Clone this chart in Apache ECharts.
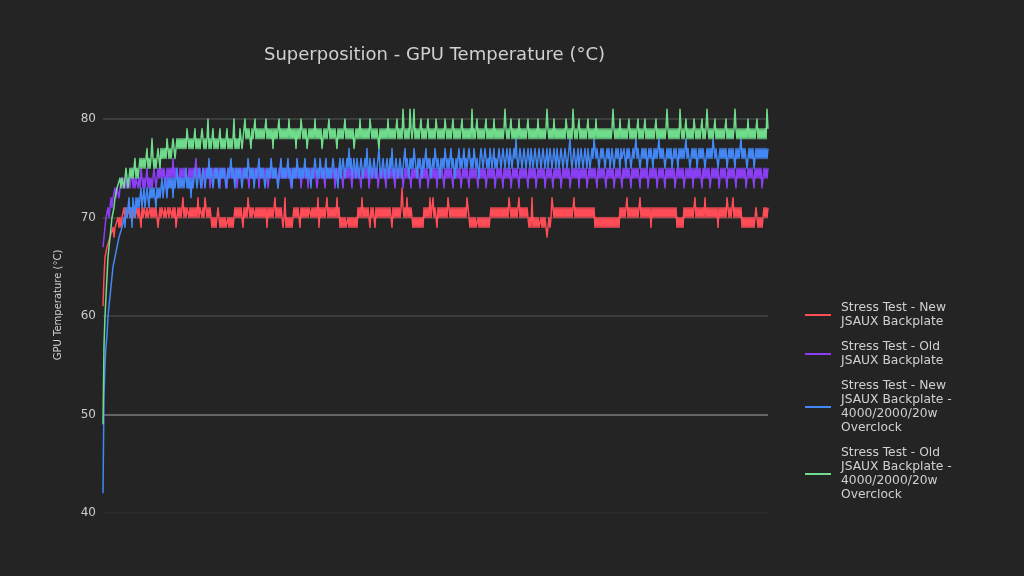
<!DOCTYPE html>
<html>
<head>
<meta charset="utf-8">
<script src="https://cdn.jsdelivr.net/npm/echarts@6/dist/echarts.min.js"></script>
<style>
html,body{margin:0;padding:0;background:#242424;}
#c{width:1024px;height:576px;}
</style>
</head>
<body>
<div id="c"></div>
<script>
const seriesNames = [
  'Stress Test - New JSAUX Backplate',
  'Stress Test - Old JSAUX Backplate',
  'Stress Test - New JSAUX Backplate - 4000/2000/20w Overclock',
  'Stress Test - Old JSAUX Backplate - 4000/2000/20w Overclock'
];
const legendLabels = [
  'Stress Test - New\nJSAUX Backplate',
  'Stress Test - Old\nJSAUX Backplate',
  'Stress Test - New\nJSAUX Backplate -\n4000/2000/20w\nOverclock',
  'Stress Test - Old\nJSAUX Backplate -\n4000/2000/20w\nOverclock'
];
const yTicks = [40, 50, 60, 70, 80];

const redNew = [
61,64,66,66,67,67,67,68,68,68,69,68,69,69,69,70,69,70,69,70,
70,71,70,71,70,70,71,70,71,71,70,71,70,70,71,70,71,70,69,71,
70,71,71,70,71,70,70,71,70,71,70,71,70,71,70,69,70,71,70,71,
71,70,71,70,70,71,70,71,71,70,71,70,71,69,70,71,70,71,70,71,
72,70,71,70,71,71,70,71,70,71,70,71,70,71,70,72,70,71,71,70,
71,70,72,71,70,71,70,71,71,69,70,69,70,69,70,71,70,69,70,69,
70,69,70,69,69,70,69,70,69,70,69,70,71,70,71,70,71,70,71,70,
69,71,70,71,70,72,71,70,71,70,71,71,70,71,70,71,70,71,70,71,
70,71,70,71,69,71,70,71,70,71,70,71,72,70,71,70,71,70,71,70,
69,70,72,69,70,69,70,69,70,69,70,71,70,71,70,71,70,69,71,70,
71,70,71,70,71,70,71,71,70,71,70,71,70,71,70,72,69,71,70,71,
70,71,70,71,72,70,71,70,71,70,71,70,71,70,72,70,71,69,70,69,
70,69,70,69,69,70,69,70,69,70,69,70,69,70,69,71,70,71,70,72,
70,71,70,71,70,71,70,69,71,70,71,70,69,71,70,71,70,71,70,71,
70,71,70,71,70,71,70,71,70,69,71,70,71,70,71,70,71,70,71,73,
71,70,71,70,72,70,71,70,71,70,69,70,69,70,69,70,69,70,69,70,
69,71,70,71,70,71,70,72,70,71,72,70,71,70,69,71,70,71,70,71,
70,71,70,71,70,72,71,70,71,70,71,70,71,70,71,70,71,70,71,70,
71,70,71,70,72,71,70,69,70,69,70,69,70,69,69,70,69,70,69,70,
69,70,69,70,69,70,69,70,71,70,71,70,71,70,71,70,71,70,71,70,
71,70,71,70,71,70,72,71,70,71,70,71,70,71,70,71,72,70,71,70,
71,70,71,70,71,70,69,70,69,72,69,70,69,70,69,70,69,69,70,69,
70,69,70,69,68,69,70,69,70,72,71,70,71,70,71,70,71,70,71,70,
71,70,71,70,71,70,71,70,71,70,71,72,70,71,70,71,70,71,70,71,
70,71,70,71,70,71,70,71,70,71,70,71,69,70,69,70,69,70,69,70,
69,70,69,70,69,70,69,70,69,70,69,70,69,70,69,70,69,71,70,71,
70,71,70,71,72,70,71,70,71,70,71,70,71,70,71,70,71,72,70,71,
70,71,70,71,70,71,70,71,69,71,70,71,70,71,70,71,70,71,70,71,
70,71,70,71,70,71,70,71,70,71,70,71,70,71,69,70,69,70,69,70,
69,71,70,71,70,71,70,71,70,71,70,71,72,70,71,70,71,70,71,70,
71,70,72,70,71,70,71,70,71,70,71,70,71,70,71,69,71,70,71,70,
71,70,71,70,72,71,70,71,70,71,72,70,71,70,71,70,71,70,71,69,
70,69,70,69,70,69,70,69,70,69,70,69,70,71,70,69,70,69,70,69,
70,71,70,71,70,71
];

const purpleOld = [
67,68,69,70,70,71,70,71,72,71,72,72,73,72,73,73,72,73,73,74,
73,74,73,74,73,73,74,73,74,75,73,74,73,74,74,73,74,73,75,74,
73,74,73,74,75,73,74,73,74,73,74,75,74,73,74,75,74,75,74,75,
74,75,74,73,75,74,75,74,75,74,76,74,75,74,75,74,73,75,74,75,
74,75,74,75,74,73,75,74,75,74,75,74,75,76,74,75,74,75,74,73,
75,74,75,74,75,74,75,73,74,75,74,75,74,75,74,75,74,73,75,74,
75,74,75,74,73,75,74,75,74,75,74,75,74,75,73,74,75,74,75,74,
75,74,75,74,75,74,73,75,74,75,74,75,74,75,74,75,73,75,74,75,
74,75,74,75,74,73,74,75,74,75,74,75,74,75,74,73,75,74,75,74,
75,74,75,74,75,74,75,74,73,75,74,75,74,75,74,75,74,75,73,74,
75,74,75,74,75,73,75,74,75,74,75,74,75,74,73,74,75,74,75,74,
75,74,73,75,74,75,74,75,74,75,74,75,73,74,75,74,75,74,75,74,
73,75,74,75,74,75,74,75,74,73,75,74,75,74,75,74,75,74,73,75,
74,75,74,75,74,75,73,74,75,74,75,74,75,74,75,73,74,75,74,75,
74,75,74,73,75,74,75,74,75,74,75,74,73,75,74,75,74,75,74,75,
73,74,75,74,75,74,75,74,73,75,74,75,74,75,74,75,74,73,75,74,
75,74,75,74,75,73,74,75,74,75,74,75,74,75,73,75,74,75,74,75,
74,73,75,74,75,74,75,74,75,74,73,75,74,75,74,75,74,75,73,74,
75,74,75,74,75,74,73,75,74,75,74,75,74,75,74,73,75,74,75,74,
75,74,75,73,74,75,74,75,74,75,74,75,73,74,75,74,75,74,75,74,
73,75,74,75,74,75,74,75,73,74,75,74,75,74,75,74,73,75,74,75,
74,75,74,75,74,73,75,74,75,74,75,74,75,73,74,75,74,75,74,75,
74,75,73,74,75,74,75,74,75,74,73,75,74,75,74,75,74,75,73,74,
75,74,75,74,75,74,75,73,74,75,74,75,74,75,74,75,73,75,74,75,
74,75,74,75,73,74,75,74,75,74,75,74,75,74,73,75,74,75,74,75,
74,75,74,73,75,74,75,74,75,74,75,73,74,75,74,75,74,75,74,73,
75,74,75,74,75,74,75,74,73,75,74,75,74,75,74,75,74,73,75,74,
75,74,75,74,75,73,74,75,74,75,74,75,74,75,73,74,75,74,75,74,
75,74,73,75,74,75,74,75,74,75,74,75,73,74,75,74,75,74,75,74,
75,73,74,75,74,75,74,75,74,75,73,75,74,75,74,75,74,75,74,73,
75,74,75,74,75,74,75,73,74,75,74,75,74,75,74,75,73,74,75,74,
75,74,75,74,73,75,74,75,74,75,74,75,74,73,75,74,75,74,75,74,
75,74,75,73,74,75,74,75,74,75,74,73,75,74,75,74,75,74,75,73,
74,75,74,75,74,75
];

const blueNewOC = [
42,52,55,57,58,60,61,62,63,64,65,65,66,66,67,67,68,68,68,69,
69,70,69,71,70,70,72,70,71,69,72,71,70,72,71,72,71,72,73,71,
72,73,71,72,73,72,71,73,72,73,72,73,72,71,73,72,73,72,73,74,
72,73,74,73,72,74,73,74,73,74,72,74,73,74,75,73,74,73,74,73,
74,73,74,75,73,74,73,74,72,74,73,74,75,74,73,74,75,74,73,74,
75,74,73,74,75,74,76,74,75,74,73,74,75,74,75,74,73,75,74,75,
74,75,74,73,74,75,74,75,76,74,75,74,73,75,74,75,74,75,74,73,
74,75,74,75,74,76,75,74,75,74,75,73,74,75,74,75,76,74,75,74,
75,74,73,74,75,74,75,74,76,75,74,75,74,75,74,73,74,75,76,74,
75,74,75,74,75,76,74,75,74,73,75,74,75,74,76,75,74,75,74,75,
74,75,76,74,75,74,75,74,73,75,74,75,76,75,74,75,74,76,75,74,
75,74,75,76,74,75,74,75,74,75,76,75,74,75,74,73,75,76,74,75,
76,75,74,75,76,75,77,75,76,74,75,76,75,74,76,75,74,75,76,75,
74,75,76,75,77,75,74,76,75,74,75,76,75,74,75,76,77,75,74,75,
76,75,74,75,76,75,74,76,75,77,75,74,75,76,75,74,75,76,75,74,
75,76,77,75,76,75,74,76,75,76,75,77,76,75,74,76,75,76,75,74,
76,75,76,77,75,76,75,76,74,75,76,75,77,76,75,76,75,74,76,75,
76,75,77,76,75,76,75,76,77,75,76,75,74,76,75,76,77,75,76,75,
76,77,75,76,75,76,77,76,75,76,75,77,76,75,76,75,74,76,77,76,
75,76,77,76,75,76,75,77,76,75,76,77,75,76,75,76,77,76,75,76,
77,76,75,76,77,76,75,77,76,75,76,77,76,78,76,75,76,77,76,75,
76,77,76,75,76,77,76,75,77,76,75,76,77,76,75,76,77,76,75,76,
77,76,75,76,77,75,76,77,76,75,76,77,76,75,77,76,75,76,77,76,
75,76,77,76,75,76,77,78,76,75,76,77,76,75,76,77,75,76,77,76,
75,76,77,76,75,77,76,75,76,77,76,78,77,76,77,76,75,76,77,76,
77,76,75,76,77,76,77,75,76,77,76,75,76,77,76,77,76,75,77,76,
76,77,76,75,77,76,77,76,75,76,77,76,77,78,76,77,76,75,76,77,
76,77,76,77,75,76,77,76,77,76,75,77,76,77,76,77,78,76,77,76,
77,76,75,76,77,76,77,76,77,75,76,77,76,77,76,75,77,76,77,76,
77,76,77,78,76,77,76,75,76,77,76,77,76,77,75,76,77,76,77,76,
77,76,75,76,77,76,77,76,77,76,78,77,76,77,76,75,76,77,76,77,
76,77,76,77,75,76,77,76,77,76,77,76,75,77,76,77,76,77,78,76,
77,76,77,76,75,76,77,76,77,76,77,75,76,77,76,77,76,77,76,77,
76,77,76,77,76,77
];

const greenOldOC = [
49,57,60,62,64,66,67,68,69,70,70,71,72,72,73,73,73,74,73,74,
74,73,74,75,74,73,74,75,74,75,74,75,76,74,75,74,75,76,75,76,
75,76,75,76,77,75,76,75,76,78,76,75,76,75,76,77,76,75,77,76,
77,76,77,76,78,77,76,77,76,77,78,77,76,77,78,77,78,77,78,77,
78,77,78,77,79,78,77,78,77,78,77,78,79,77,78,77,78,77,78,79,
78,77,78,77,78,80,77,78,77,78,79,77,78,77,78,77,78,79,77,78,
77,78,77,78,79,77,78,77,78,77,78,80,77,78,77,78,77,79,78,77,
78,79,80,78,79,78,79,78,77,79,78,79,80,78,79,78,79,78,79,78,
79,78,79,80,78,79,78,79,78,79,77,79,78,79,78,79,80,78,79,78,
79,78,79,78,79,78,80,78,79,78,79,78,79,77,79,78,79,78,80,79,
78,79,78,79,77,78,79,78,79,78,79,78,80,78,79,78,79,78,79,77,
78,79,78,79,78,79,80,78,79,78,79,78,79,78,77,79,78,79,78,79,
78,79,80,78,79,78,79,78,79,78,79,77,78,79,78,79,78,80,78,79,
78,79,78,79,78,79,78,80,79,78,79,78,79,78,79,78,77,79,78,79,
78,79,78,79,78,80,78,79,78,79,78,79,78,79,80,78,79,78,79,78,
81,79,78,79,78,79,78,81,79,78,79,81,78,79,78,79,78,79,80,78,
79,78,79,78,79,80,78,79,78,79,78,79,78,80,79,78,79,78,79,78,
79,78,80,79,78,79,78,79,78,79,80,78,79,78,79,78,79,78,79,80,
78,79,78,79,78,79,78,79,78,81,78,79,78,79,80,78,79,78,79,78,
79,78,79,80,78,79,78,79,78,79,78,80,78,79,78,79,78,79,78,79,
78,79,81,79,78,79,78,79,80,78,79,78,79,78,79,78,80,78,79,78,
79,78,79,78,79,80,78,79,78,79,78,79,78,79,78,80,78,79,78,79,
78,79,78,79,81,79,78,79,78,79,78,80,78,79,78,79,78,79,78,79,
78,79,78,80,79,78,79,78,79,78,81,79,78,79,78,79,80,78,79,78,
79,78,79,78,79,80,78,79,78,79,78,79,78,80,78,79,78,79,78,79,
78,79,78,79,78,79,78,79,78,79,81,79,78,79,78,79,78,80,78,79,
78,79,78,79,78,79,80,78,79,78,79,78,79,78,79,80,78,79,78,79,
78,79,80,78,79,78,79,78,79,78,79,78,79,80,78,79,78,79,78,79,
78,79,78,79,81,79,78,79,78,79,78,79,78,79,78,79,78,81,79,78,
79,78,79,80,78,79,78,79,78,79,78,80,79,78,79,78,79,78,79,80,
78,79,78,79,81,79,78,79,78,79,78,79,80,78,79,78,79,78,79,78,
79,78,79,80,78,79,78,79,78,79,78,79,81,79,78,79,78,79,78,79,
78,79,78,79,78,80,78,79,78,79,78,79,78,79,80,78,79,78,79,78,
79,78,79,78,81,79
];

const seriesData = [redNew, purpleOld, blueNewOC, greenOldOC];
const seriesColors = ['#ff4c57', '#8b3ff5', '#4287f5', '#6fdc8c'];
const sampleIndex = redNew.map((_, i) => i);
const FONT = 'DejaVu Sans';

const chart = echarts.init(document.getElementById('c'), null, {renderer: 'canvas'});
chart.setOption({
  backgroundColor: '#242424',
  animation: false,
  title: {
    text: 'Superposition - GPU Temperature (°C)',
    left: 429.5,
    textAlign: 'center',
    top: 41,
    textStyle: {color: '#d0d0d0', fontSize: 18, fontWeight: 'normal', fontFamily: FONT}
  },
  grid: {left: 103, right: 256, top: 119, bottom: 63, containLabel: false},
  legend: {
    orient: 'vertical',
    left: 805,
    top: 301,
    padding: 0,
    itemWidth: 26,
    itemHeight: 2,
    itemGap: 11,
    icon: 'rect',
    data: seriesNames,
    formatter: name => legendLabels[seriesNames.indexOf(name)],
    textStyle: {color: '#d0d0d0', fontSize: 12.3, lineHeight: 14, fontFamily: FONT, padding: [0, 0, 0, 5]}
  },
  xAxis: {
    type: 'category',
    data: sampleIndex,
    boundaryGap: false,
    axisLine: {show: false},
    axisTick: {show: false},
    axisLabel: {show: false},
    splitLine: {show: false}
  },
  yAxis: {
    type: 'value',
    min: yTicks[0],
    max: yTicks[yTicks.length - 1],
    interval: 10,
    name: 'GPU Temperature (°C)',
    nameLocation: 'middle',
    nameGap: 40,
    nameTextStyle: {color: '#d0d0d0', fontSize: 10, fontFamily: FONT, padding: [0, 0, 0, 22]},
    axisLine: {show: false},
    axisTick: {show: false},
    axisLabel: {color: '#cccccc', fontSize: 12, margin: 7, fontFamily: FONT},
    splitLine: {lineStyle: {color: ['#2c2c2c', '#7a7a7a', '#444444', '#444444', '#444444'], width: 1.5}}
  },
  series: seriesData.map((d, k) => ({
    name: seriesNames[k],
    type: 'line',
    data: d,
    showSymbol: false,
    symbol: 'none',
    clip: false,
    color: seriesColors[k],
    lineStyle: {width: 1.5, color: seriesColors[k], join: 'round'},
    emphasis: {disabled: true}
  }))
});
</script>
</body>
</html>
